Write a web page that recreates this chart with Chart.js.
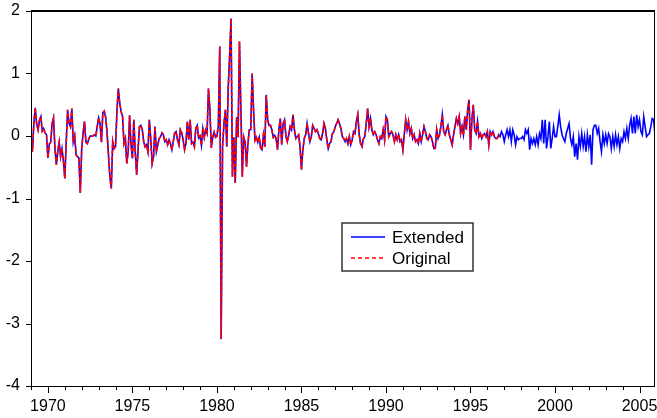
<!DOCTYPE html>
<html>
<head>
<meta charset="utf-8">
<script src="https://cdn.jsdelivr.net/npm/chart.js@4.4.1/dist/chart.umd.min.js"></script>
<style>
  html, body { margin: 0; padding: 0; background: #fff; }
  #wrap { width: 657px; height: 418px; position: relative; }
</style>
</head>
<body>
<div id="wrap"><canvas id="chart"></canvas></div>
<script>
// monthly values, 1969M01 .. 2005M12
const firstYear = 1969;
const vals1969_73 = [0.0, -0.25, 0.2, 0.45, 0.2, 0.1, 0.25, 0.31, 0.08, 0.12, 0.05, 0.02,
  -0.35, -0.13, -0.1, 0.2, 0.29, -0.2, -0.46, -0.25, -0.1, -0.33, -0.2, -0.4,
  -0.68, -0.1, 0.42, 0.2, 0.15, 0.44, -0.1, 0.0, -0.3, -0.33, -0.35, -0.91,
  -0.2, 0.05, 0.23, -0.1, -0.12, -0.05, 0.0, 0.0, 0.0, 0.02, 0.0, 0.15,
  0.29, 0.2, -0.1, 0.37, 0.4, 0.3, 0.05, -0.3, -0.66, -0.84];
const vals1973_78 = [-0.09, -0.2, -0.17, 0.39, 0.76, 0.52, 0.39, 0.31, -0.12, -0.04, -0.44, -0.25,
  0.33, -0.14, -0.36, 0.26, -0.25, -0.62, -0.22, 0.15, 0.17, 0.1, -0.09, -0.17,
  -0.14, -0.25, 0.26, -0.04, -0.44, -0.33, 0.15, -0.25, -0.14, -0.04, -0.01, 0.05,
  0.02, -0.09, -0.06, -0.14, -0.06, -0.12, -0.22, -0.09, 0.05, 0.07, -0.06, -0.14,
  0.1, 0.05, -0.06, -0.22, -0.12, 0.23, -0.06];
const vals1978_83 = [0.26, -0.12, -0.1, -0.17, 0.12, 0.17, -0.03, 0.0, -0.15, 0.12, -0.02, 0.1,
  0.04, 0.76, 0.42, -0.19, -0.02, 0.06, -0.02, 0.0, 0.17, 1.43, -3.25, -0.17,
  0.2, 0.42, -0.17, 0.76, 1.27, 1.88, -0.65, -0.02, -0.75, 0.3, -0.02, 1.51,
  0.42, -0.65, -0.02, -0.1, -0.49, -0.12, 0.1, 0.1, 1.0, 0.42, -0.07, -0.02,
  -0.1, -0.02, -0.19, -0.22, 0.01, -0.17, 0.66, 0.26, 0.17, 0.17, 0.1, -0.02,
  0.01];
const vals1983_88 = [-0.04, -0.22, 0.1, 0.28, -0.14, 0.2, 0.26, -0.01, -0.09, 0.02, 0.15, 0.1,
  0.34, 0.1, -0.04, -0.01, 0.02, -0.17, -0.54, -0.22, -0.04, 0.02, 0.2, 0.04,
  -0.09, -0.01, 0.17, 0.12, 0.07, 0.1, 0.04, -0.04, -0.06, 0.04, 0.2, 0.12,
  -0.06, -0.2, -0.12, -0.09, 0.04, 0.07, 0.15, 0.2, 0.26, 0.2, 0.12, -0.01,
  -0.04, -0.09, -0.04, -0.12, -0.01, -0.14, -0.06, 0.07, 0.04];
const vals1988_92 = [0.23, 0.34, 0.02, -0.12, -0.17, -0.04, -0.01, 0.2, 0.44, 0.15, 0.28, 0.1,
  0.02, 0.07, 0.02, -0.06, -0.12, -0.01, -0.04, 0.1, -0.06, 0.31, 0.26, -0.01,
  0.04, 0.07, 0.02, -0.09, 0.02, -0.06, 0.02, -0.09, -0.06, -0.22, 0.02, 0.26,
  0.1, 0.23, 0.04, 0.12, -0.04, 0.02, -0.09, -0.06, -0.12, 0.04, -0.09, 0.02,
  0.15, 0.07, -0.04, -0.06, 0.02, -0.01, -0.09, -0.2];
const vals1992_97 = [-0.2, 0.1, -0.04, 0.02, 0.15, 0.34, 0.07, 0.02, 0.1, 0.17, 0.02, -0.06,
  -0.14, 0.02, 0.15, 0.28, 0.2, 0.31, 0.04, 0.15, 0.02, 0.31, 0.1, 0.42,
  0.58, -0.22, 0.26, 0.5, 0.1, 0.04, 0.23, -0.01, 0.04, -0.04, 0.02, 0.04,
  -0.01, 0.07, -0.14, 0.07, 0.02, 0.07, -0.01, -0.04, -0.04, 0.02, -0.01, 0.07,
  0.02, -0.09, 0.02, 0.1, -0.01, 0.1, -0.09, 0.1, 0.02];
const vals1997_02 = [-0.14, -0.01, -0.06, -0.04, -0.04, -0.01, -0.06, 0.1, 0.04, 0.1, -0.22, -0.04,
  -0.12, -0.04, -0.14, -0.01, -0.14, 0.04, -0.04, 0.26, -0.12, 0.26, -0.2, -0.01,
  0.23, -0.2, -0.04, 0.15, -0.01, -0.01, 0.15, 0.34, 0.15, 0.02, -0.04, -0.09,
  0.04, 0.12, 0.2, -0.04, -0.14, -0.01, -0.33, -0.12, -0.38, -0.01, -0.17, 0.04,
  -0.17, -0.01, -0.25, 0.02, -0.17, 0.02, -0.46, 0.1, 0.17];
const vals2002_05 = [0.17, 0.04, 0.12, -0.09, -0.25, 0.02, -0.12, 0.02, -0.12, 0.04, -0.01, -0.2,
  -0.01, -0.17, 0.02, -0.14, -0.01, -0.2, -0.04, -0.09, 0.07, -0.04, 0.12, -0.04,
  0.17, 0.28, 0.04, 0.31, 0.04, 0.34, 0.15, 0.26, 0.07, 0.02, 0.31, 0.15,
  -0.01, 0.02, 0.04, 0.15, 0.28, 0.26, 0.02];

const extended = [].concat(vals1969_73, vals1973_78, vals1978_83, vals1983_88,
  vals1988_92, vals1992_97, vals1997_02, vals2002_05);
// the original series runs to 1996M10 and lies on top of the extended one
const originalMonths = 334;
const original = extended.slice(0, originalMonths);

const yearLabels = [1970, 1975, 1980, 1985, 1990, 1995, 2000, 2005];
const yTicks = [-4, -3, -2, -1, 0, 1, 2];
const seriesNames = ["Extended", "Original"];

const toPoints = arr => arr.map((v, i) => ({ x: firstYear + i / 12, y: v }));
const lastX = firstYear + (extended.length - 1) / 12;
const FONT = "'Liberation Sans', Arial, sans-serif";

const framePlugin = {
  id: "frame",
  afterDraw(chart) {
    const { ctx, chartArea: a, scales } = chart;
    ctx.save();
    ctx.strokeStyle = "#000";
    ctx.lineWidth = 1;
    ctx.strokeRect(a.left + 0.5, a.top + 0.5, a.right - a.left - 1, a.bottom - a.top);
    // top edge a bit heavier
    ctx.lineWidth = 2;
    ctx.beginPath();
    ctx.moveTo(a.left, a.top);
    ctx.lineTo(a.right, a.top);
    ctx.stroke();
    ctx.lineWidth = 1;
    // year ticks below the axis
    ctx.beginPath();
    for (let yr = firstYear; yr <= 2005; yr++) {
      const px = Math.round(scales.x.getPixelForValue(yr)) + 0.5;
      const len = yr % 5 === 0 ? 7 : 4;
      ctx.moveTo(px, a.bottom);
      ctx.lineTo(px, a.bottom + len);
    }
    // value ticks left of the axis
    yTicks.forEach(v => {
      const py = Math.round(scales.y.getPixelForValue(v)) + 0.5;
      ctx.moveTo(a.left, py);
      ctx.lineTo(a.left - 5, py);
    });
    ctx.stroke();

    // legend box
    const lx = 342, ly = 223, lw = 131, lh = 48;
    ctx.fillStyle = "#fff";
    ctx.fillRect(lx, ly, lw, lh);
    ctx.strokeStyle = "#333";
    ctx.lineWidth = 1.5;
    ctx.strokeRect(lx, ly, lw, lh);
    ctx.font = "17px " + FONT;
    ctx.textBaseline = "middle";
    ctx.fillStyle = "#000";
    const rows = [
      { name: seriesNames[0], color: "#0000ff", dash: [] },
      { name: seriesNames[1], color: "#ff0000", dash: [4, 3] }
    ];
    rows.forEach((r, i) => {
      const ry = ly + 14 + i * 21;
      ctx.strokeStyle = r.color;
      ctx.lineWidth = 1.5;
      ctx.setLineDash(r.dash);
      ctx.beginPath();
      ctx.moveTo(351, ry);
      ctx.lineTo(385, ry);
      ctx.stroke();
      ctx.setLineDash([]);
      ctx.fillText(r.name, 392, ry + 1);
    });
    ctx.restore();
  }
};

new Chart(document.getElementById("chart"), {
  type: "line",
  data: {
    datasets: [
      {
        label: seriesNames[1],
        data: toPoints(original),
        borderColor: "#ff0000",
        borderWidth: 1.6,
        borderDash: [4, 2],
        pointRadius: 0,
        tension: 0,
        order: 0
      },
      {
        label: seriesNames[0],
        data: toPoints(extended),
        borderColor: "#0000ff",
        borderWidth: 1.6,
        pointRadius: 0,
        tension: 0,
        order: 1
      }
    ]
  },
  options: {
    responsive: true,
    maintainAspectRatio: false,
    animation: false,
    devicePixelRatio: 1,
    layout: { padding: { top: 11, right: 2, left: 0, bottom: 0 } },
    plugins: {
      legend: { display: false },
      tooltip: { enabled: false }
    },
    scales: {
      x: {
        type: "linear",
        min: firstYear,
        max: lastX,
        afterBuildTicks: scale => { scale.ticks = yearLabels.map(v => ({ value: v })); },
        afterFit: scale => {
          scale.height = 32;
          scale.paddingLeft = 0;
          scale.paddingRight = 0;
        },
        grid: { display: false },
        border: { display: false },
        ticks: {
          autoSkip: false,
          maxRotation: 0,
          padding: 3,
          color: "#000",
          font: { family: FONT, size: 16 },
          callback: v => String(v)
        }
      },
      y: {
        min: -4,
        max: 2,
        afterBuildTicks: scale => { scale.ticks = yTicks.map(v => ({ value: v })); },
        afterFit: scale => {
          scale.width = 31;
          scale.paddingTop = 0;
          scale.paddingBottom = 0;
        },
        grid: { display: false },
        border: { display: false },
        ticks: {
          padding: 3,
          color: "#000",
          font: { family: FONT, size: 16 },
          callback: v => String(v)
        }
      }
    }
  },
  plugins: [framePlugin]
});
</script>
</body>
</html>
